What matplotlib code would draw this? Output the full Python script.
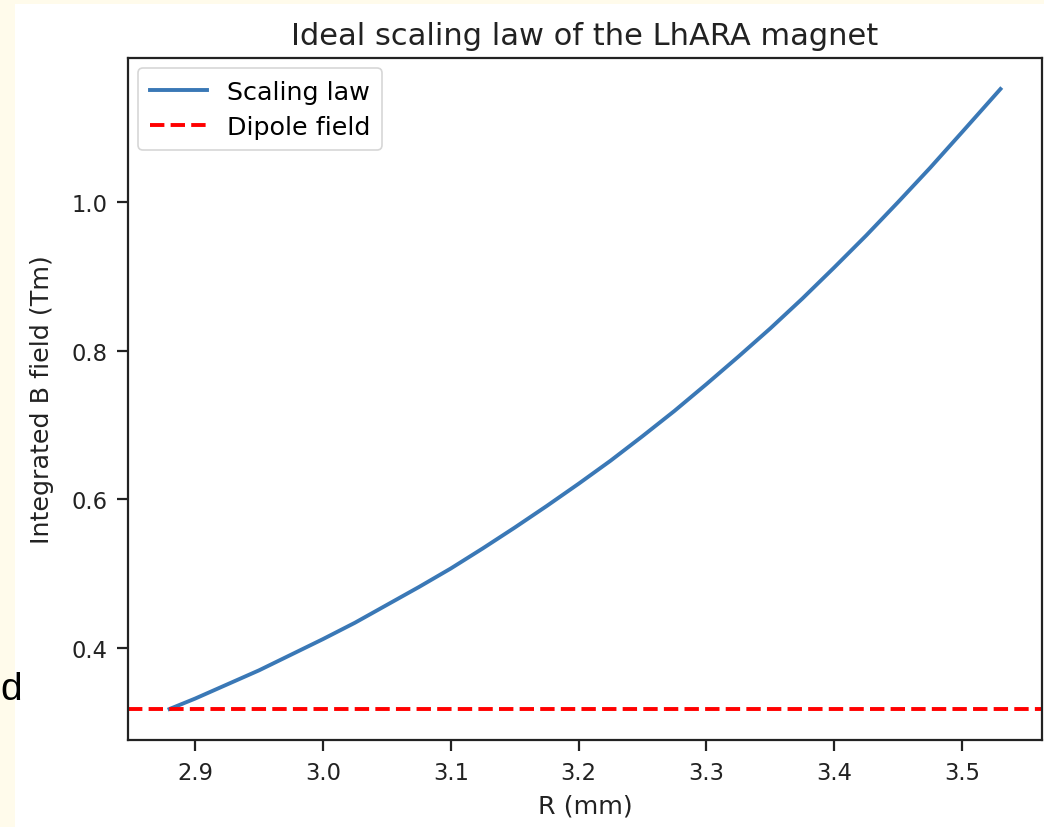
import matplotlib
matplotlib.use('Agg')
import matplotlib.pyplot as plt
from matplotlib.patches import Rectangle

# radius (mm) and integrated field (Tm)
radius = [2.88, 2.90, 2.925, 2.95, 2.975, 3.00, 3.025, 3.05, 3.075, 3.10, 3.125, 3.15, 3.175,
          3.20, 3.225, 3.25, 3.275, 3.30, 3.325, 3.35, 3.375, 3.40, 3.425, 3.45, 3.475, 3.50, 3.53]
b_field = [0.318, 0.332, 0.351, 0.370, 0.391, 0.412, 0.434, 0.458, 0.482, 0.507, 0.534, 0.562, 0.591,
           0.621, 0.652, 0.685, 0.719, 0.755, 0.792, 0.830, 0.870, 0.912, 0.955, 1.000, 1.046, 1.094, 1.152]
dipole_field = 0.318

tick_fs, label_fs, title_fs = 16.3, 18.3, 22

fig = plt.figure(figsize=(10.44, 8.28), dpi=100)
fig.patch.set_facecolor('#fffbeb')
# white canvas of the screenshot
fig.patches.append(Rectangle((15 / 1044, 0), 1, 823 / 828, transform=fig.transFigure,
                             facecolor='white', edgecolor='none', zorder=-1))
fig.text(0.0, (828 - 690) / 828, 'd', fontsize=28, color='black',
         family='Liberation Sans', va='center', ha='left')

ax = fig.add_axes([128 / 1044, 87 / 828, 914 / 1044, 682 / 828])
ax.plot(radius, b_field, color='#3a78b6', lw=2.8, label='Scaling law')
ax.axhline(dipole_field, color='red', ls='--', lw=2.8, dashes=(3.7, 1.6), label='Dipole field')

ax.set_title('Ideal scaling law of the LhARA magnet', fontsize=title_fs, color='#222222', pad=10)
ax.set_xlabel('R (mm)', fontsize=label_fs, color='#222222', labelpad=7)
ax.set_ylabel('Integrated B field (Tm)', fontsize=label_fs, color='#222222', labelpad=12)
ax.set_yticks([0.4, 0.6, 0.8, 1.0])
ax.tick_params(labelsize=tick_fs, length=8, width=1.6, colors='#222222', pad=7)
for s in ax.spines.values():
    s.set_linewidth(1.6)
    s.set_color('#222222')

leg = ax.legend(loc='upper left', fontsize=label_fs, handlelength=2.25, borderpad=0.45,
                labelspacing=0.45, borderaxespad=0.4, fancybox=True)
leg.get_frame().set_linewidth(1.2)

plt.savefig('out.png', dpi=100)
